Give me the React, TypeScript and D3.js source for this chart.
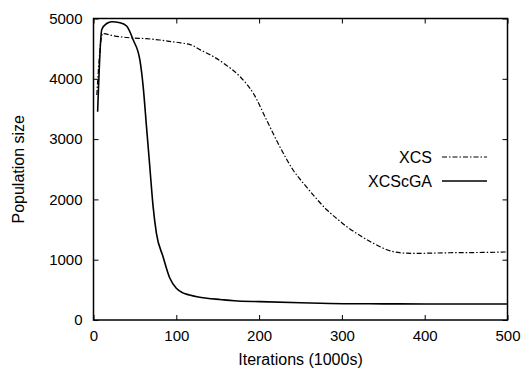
import React, { useEffect, useRef } from "react";
import * as d3 from "d3";

// XCS population size (dash-dot line)
const xcsIterations = [4, 11, 24, 44, 64, 80, 95, 105, 120, 129, 145, 160, 177, 193, 209, 225, 241, 257, 270, 282, 294, 306, 322, 338, 350, 362, 375, 390, 410, 430, 450, 470, 490, 500];
const xcsSizes = [3730, 4750, 4715, 4680, 4665, 4643, 4615, 4597, 4550, 4480, 4367, 4230, 4035, 3760, 3317, 2874, 2488, 2211, 2000, 1824, 1680, 1547, 1400, 1272, 1190, 1133, 1110, 1105, 1110, 1115, 1118, 1120, 1125, 1128];

// XCScGA population size (solid line)
const gaIterations = [5, 10, 16, 22, 32, 40, 48, 56, 60, 64, 68, 72, 76, 84, 92, 100, 108, 116, 125, 137, 153, 170, 201, 250, 302, 350, 402, 450, 500];
const gaSizes = [3455, 4818, 4917, 4945, 4930, 4875, 4643, 4312, 3870, 3206, 2542, 1879, 1437, 1050, 700, 525, 450, 414, 385, 360, 340, 320, 304, 285, 270, 268, 265, 265, 265];

const xTicks = [0, 100, 200, 300, 400, 500];
const yTicks = [0, 1000, 2000, 3000, 4000, 5000];

const seriesNames = ["XCS", "XCScGA"];

const App = () => {
  const svgRef = useRef<SVGSVGElement>(null);

  useEffect(() => {
    if (!svgRef.current) return;

    const width = 522;
    const height = 370;
    const margin = { top: 18.5, right: 14.5, bottom: 50, left: 93.5 };
    const font = "Liberation Sans, Arial, Helvetica, sans-serif";

    const svg = d3.select(svgRef.current);
    svg.selectAll("*").remove();
    svg.attr("width", width).attr("height", height).style("background", "#fff");

    const x = d3.scaleLinear().domain([0, 500]).range([margin.left, width - margin.right]);
    const y = d3.scaleLinear().domain([0, 5000]).range([height - margin.bottom, margin.top]);

    const tickLen = 5;
    const fmt = d3.format("d");

    // bottom axis (ticks inward)
    const bottom = svg
      .append("g")
      .attr("transform", `translate(0,${y(0)})`)
      .call(d3.axisBottom(x).tickValues(xTicks).tickFormat((d) => fmt(d as number)).tickSize(-tickLen).tickPadding(10).tickSizeOuter(0));
    // top mirror ticks
    const top = svg
      .append("g")
      .attr("transform", `translate(0,${y(5000)})`)
      .call(d3.axisTop(x).tickValues(xTicks).tickSize(-tickLen).tickFormat(() => "").tickSizeOuter(0));
    // left axis
    const left = svg
      .append("g")
      .attr("transform", `translate(${x(0)},0)`)
      .call(d3.axisLeft(y).tickValues(yTicks).tickFormat((d) => fmt(d as number)).tickSize(-tickLen).tickPadding(11).tickSizeOuter(0));
    // right mirror ticks
    const right = svg
      .append("g")
      .attr("transform", `translate(${x(500)},0)`)
      .call(d3.axisRight(y).tickValues(yTicks).tickSize(-tickLen).tickFormat(() => "").tickSizeOuter(0));

    [bottom, top, left, right].forEach((g) => {
      g.select(".domain").remove();
      g.selectAll(".tick line").attr("stroke", "#000").attr("stroke-width", 1);
      g.selectAll(".tick text")
        .attr("fill", "#000")
        .style("font-family", font)
        .style("font-size", "15px");
    });

    // frame
    svg
      .append("rect")
      .attr("x", x(0))
      .attr("y", y(5000))
      .attr("width", x(500) - x(0))
      .attr("height", y(0) - y(5000))
      .attr("fill", "none")
      .attr("stroke", "#000")
      .attr("stroke-width", 1.5);

    const line = d3
      .line<[number, number]>()
      .x((d) => x(d[0]))
      .y((d) => y(d[1]))
      .curve(d3.curveMonotoneX);

    const xcsData: [number, number][] = xcsIterations.map((d, i) => [d, xcsSizes[i]]);
    const gaData: [number, number][] = gaIterations.map((d, i) => [d, gaSizes[i]]);

    const xcsDash = "5,2,1.5,2";

    svg
      .append("path")
      .datum(xcsData)
      .attr("fill", "none")
      .attr("stroke", "#000")
      .attr("stroke-width", 1.2)
      .attr("stroke-dasharray", xcsDash)
      .attr("d", line);

    svg
      .append("path")
      .datum(gaData)
      .attr("fill", "none")
      .attr("stroke", "#000")
      .attr("stroke-width", 1.6)
      .attr("stroke-linejoin", "round")
      .attr("d", line);

    // Legend
    const legend = svg.append("g").attr("transform", "translate(432,157)");
    seriesNames.forEach((name, i) => {
      legend
        .append("text")
        .attr("x", 0)
        .attr("y", i * 24)
        .attr("dy", "0.35em")
        .attr("text-anchor", "end")
        .style("font-family", font)
        .style("font-size", "16px")
        .text(name);
      legend
        .append("line")
        .attr("x1", 10)
        .attr("x2", 55)
        .attr("y1", i * 24)
        .attr("y2", i * 24)
        .attr("stroke", "#000")
        .attr("stroke-width", i === 0 ? 1.2 : 1.6)
        .attr("stroke-dasharray", i === 0 ? xcsDash : null);
    });

    // Axis labels
    svg
      .append("text")
      .attr("x", (x(0) + x(500)) / 2)
      .attr("y", 365)
      .attr("text-anchor", "middle")
      .style("font-family", font)
      .style("font-size", "16px")
      .text("Iterations (1000s)");

    svg
      .append("text")
      .attr("transform", `translate(24,${(y(0) + y(5000)) / 2}) rotate(-90)`)
      .attr("text-anchor", "middle")
      .style("font-family", font)
      .style("font-size", "16px")
      .text("Population size");
  }, []);

  return <svg ref={svgRef} style={{ position: "absolute", left: 0, top: 0 }}></svg>;
};

export default App;
